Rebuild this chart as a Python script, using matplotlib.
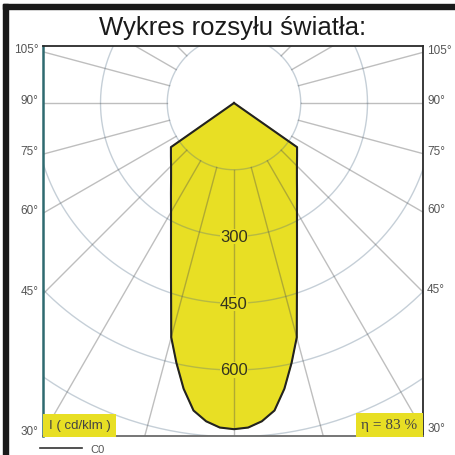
import numpy as np
import matplotlib
matplotlib.use("Agg")
import matplotlib.pyplot as plt
from matplotlib.patches import Rectangle

# Dane: krzywa rozsyłu C0 (kąt od nadiru, cd/klm)
gamma = [0, 2.5, 5, 7.5, 10, 12.5, 15, 17.5, 20, 25, 30, 35, 40, 45, 50, 55, 90]
c0 = [733, 730, 718, 697, 652, 598, 545, 470, 414, 335, 283, 247, 220, 200, 185, 173, 0]
ring_values = [150, 300, 450, 600, 750, 900]
ring_labels = [300, 450, 600]
side_angles = [105, 90, 75, 60, 45, 30]
title = "Wykres rozsyłu światła:"
unit_label = "I ( cd/klm )"
eta_label = "η = 83 %"
legend_label = "C0"

plt.rcParams['font.family'] = ['Liberation Sans', 'DejaVu Sans']

W, H = 455, 456
fig = plt.figure(figsize=(W / 100, H / 100), dpi=100)

# ramka czarna (góra, lewa)
fig.patches.append(Rectangle((3 / W, 0), 5 / W, 1 - 5 / H, transform=fig.transFigure,
                             color='#1a1a1a', zorder=0))
fig.patches.append(Rectangle((3 / W, 1 - 9.5 / H), 1, 4.5 / H, transform=fig.transFigure,
                             color='#1a1a1a', zorder=0))

# pole wykresu w pikselach
L, R, T, B = 43, 423, 46.5, 437
ax = fig.add_axes([L / W, 1 - B / H, (R - L) / W, (B - T) / H])
scale = 0.445  # px na cd/klm
cx, cy = 234, 104
xmin, xmax = (L - cx) / scale, (R - cx) / scale
ymin, ymax = -(B - cy) / scale, (cy - T) / scale
ax.set_xlim(xmin, xmax)
ax.set_ylim(ymin, ymax)
ax.set_aspect('equal', adjustable='box')
ax.set_xticks([])
ax.set_yticks([])
for s in ax.spines.values():
    s.set_color('#2a2a2a')
    s.set_linewidth(1.3)
ax.spines['left'].set_color('#2f6a70')
ax.spines['left'].set_linewidth(1.8)
ax.spines['bottom'].set_color('#6a6a6a')

# krzywa C0 (symetryczna)
g = np.radians(gamma)
I = np.array(c0, dtype=float)
xr, yr = I * np.sin(g), -I * np.cos(g)
xs = np.concatenate([-xr[::-1], xr[1:]])
ys = np.concatenate([yr[::-1], yr[1:]])
ax.fill(xs, ys, color='#e8df24', zorder=1)

# siatka
t = np.linspace(0, 2 * np.pi, 400)
for r in ring_values:
    ax.plot(r * np.cos(t), r * np.sin(t), color=(0.3, 0.42, 0.52), alpha=0.32, lw=1.0, zorder=2)
for a in range(0, 360, 15):
    ar = np.radians(a)
    ax.plot([150 * np.sin(ar), 1200 * np.sin(ar)], [-150 * np.cos(ar), -1200 * np.cos(ar)],
            color=(0.3, 0.3, 0.3), alpha=0.36, lw=1.0, zorder=2)

ax.plot(xs, ys, color='#222222', lw=1.5, zorder=3)

for v in ring_labels:
    ax.text(0, -v, str(v), ha='center', va='center', fontsize=12, color='#33331f', zorder=4,
            bbox=dict(facecolor='#e8df24', edgecolor='none', pad=0.3))

# opisy kątów po bokach
for a in side_angles:
    ar = np.radians(a)
    y_l = -np.cos(ar) * (xmin / -np.sin(ar))
    ax.annotate(f"{a}°", xy=(xmin, y_l), xytext=(-3, 2), textcoords='offset points',
                ha='right', va='center', fontsize=8.5, color='#555555', annotation_clip=False)
    y_r = -np.cos(ar) * (xmax / np.sin(ar))
    ax.annotate(f"{a}°", xy=(xmax, y_r), xytext=(3, 2), textcoords='offset points',
                ha='left', va='center', fontsize=8.5, color='#555555', annotation_clip=False)

# etykiety w rogach
ax.text(0.015, 0.012, unit_label, transform=ax.transAxes, ha='left', va='bottom', fontsize=9.5,
        color='#444444', zorder=5,
        bbox=dict(facecolor='#e8df24', edgecolor='none', boxstyle='square,pad=0.4'))
ax.text(0.985, 0.012, eta_label, transform=ax.transAxes, ha='right', va='bottom', fontsize=11,
        color='#444444', family=['Liberation Serif', 'DejaVu Serif'], zorder=5,
        bbox=dict(facecolor='#e8df24', edgecolor='none', boxstyle='square,pad=0.35'))

fig.text(233 / W, 1 - 28 / H, title, ha='center', va='center', fontsize=18.5, color='#1a1a1a')

# legenda
fig.add_artist(plt.Line2D([40 / W, 82 / W], [1 - 449 / H, 1 - 449 / H], color='#333333', lw=1.2))
fig.text(90 / W, 1 - 450 / H, legend_label, ha='left', va='center', fontsize=8, color='#555555')

plt.savefig("out.png", dpi=100)
